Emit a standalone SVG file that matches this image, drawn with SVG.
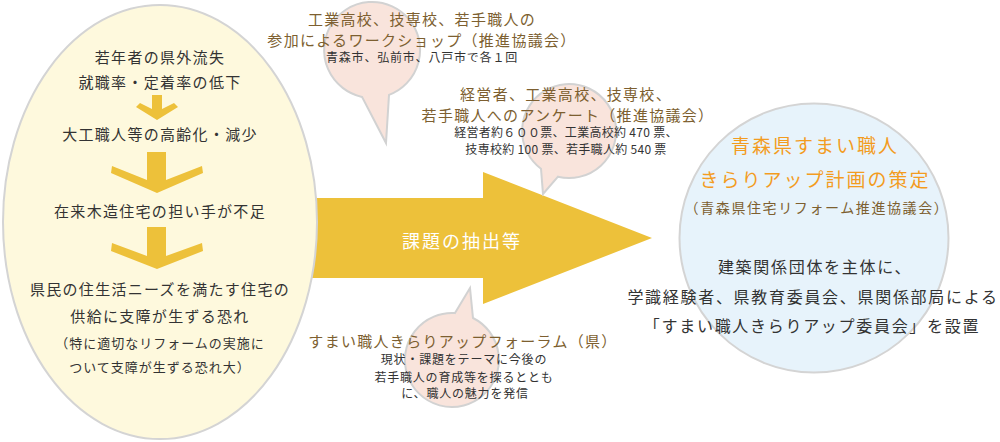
<svg xmlns="http://www.w3.org/2000/svg" width="1000" height="442" viewBox="0 0 1000 442">
<style>
text { font-family: "Noto Sans CJK JP", "Noto Sans", sans-serif; text-anchor: middle; }
.d15 { font-size: 15px; letter-spacing: 1.3px; fill: #333; }
.d13 { font-size: 13px; letter-spacing: 1px; fill: #333; }
.b15 { font-size: 15px; letter-spacing: 1.3px; fill: #7d5f30; }
.s12 { font-size: 12px; letter-spacing: 0.8px; fill: #333; }
.s12n { font-size: 12px; letter-spacing: 0.3px; fill: #333; }
.o19 { font-size: 19px; letter-spacing: 2px; fill: #f39c1f; }
.b14 { font-size: 14px; letter-spacing: 1.6px; fill: #7d5f30; }
.d16 { font-size: 16px; letter-spacing: 1.7px; fill: #333; }
.w18 { font-size: 18px; letter-spacing: 2px; fill: #ffffff; }
.yel { fill: #edc13a; }
.bubble { fill: #f9e4dc; stroke: #d2d2d2; stroke-width: 2; }
</style>

<g id="connectors">
  <polygon class="yel" points="300,198 483,198 483,172 652,238 483,304 483,278 300,278"/>
</g>

<g id="node-left">
  <ellipse cx="160" cy="222" rx="157" ry="217" fill="#fef9dd" stroke="#d4d4d4" stroke-width="2"/>
  <text class="d15" x="160" y="63">若年者の県外流失</text>
  <text class="d15" x="160" y="88">就職率・定着率の低下</text>
  <text class="d15" x="160" y="140">大工職人等の高齢化・減少</text>
  <text class="d15" x="160" y="217">在来木造住宅の担い手が不足</text>
  <text class="d15" x="160" y="295">県民の住生活ニーズを満たす住宅の</text>
  <text class="d15" x="160" y="322">供給に支障が生ずる恐れ</text>
  <text class="d13" x="160" y="348">（特に適切なリフォームの実施に</text>
  <text class="d13" x="160" y="372">ついて支障が生ずる恐れ大）</text>
</g>

<g id="down-arrows">
  <polygon class="yel" points="152,95 162,95 162,109 174,103 178,107 157,120 136,107 140,103 152,109"/>
  <polygon class="yel" points="147,152 166,152 166,180 202,166 203,173 157,193 111,173 112,166 147,180"/>
  <polygon class="yel" points="147,227 166,227 166,256 202,243 203,251 157,269 111,251 112,243 147,256"/>
</g>

<g id="node-workshop">
  <path class="bubble" d="M389,94.9 A48,48 0 1 0 362,96.9 L386,143 Z"/>
  <text class="b15" x="422" y="25">工業高校、技専校、若手職人の</text>
  <text class="b15" x="422" y="46">参加によるワークショップ（推進協議会）</text>
  <text class="s12" x="422" y="62">青森市、弘前市、八戸市で各１回</text>
</g>

<g id="node-survey">
  <path class="bubble" d="M558,176.7 A47,47 0 1 0 541,168.7 L543,194 Z"/>
  <text class="b15" x="566" y="100">経営者、工業高校、技専校、</text>
  <text class="b15" x="568" y="121">若手職人へのアンケート（推進協議会）</text>
  <text class="s12n" x="566" y="137">経営者約６００票、工業高校約 470 票、</text>
  <text class="s12n" x="566" y="154">技専校約 100 票、若手職人約 540 票</text>
</g>

<g id="node-forum">
  <path class="bubble" d="M455,313.1 L470,288 L473,318 A47,47 0 1 1 455,313.1 Z"/>
  <text class="b15" x="463" y="347">すまい職人きらりアップフォーラム（県）</text>
  <text class="s12" x="464" y="364">現状・課題をテーマに今後の</text>
  <text class="s12" x="464" y="382">若手職人の育成等を探るととも</text>
  <text class="s12" x="465" y="398">に、職人の魅力を発信</text>
</g>

<g id="node-plan">
  <circle cx="814" cy="238" r="134.5" fill="#e7f3fb" stroke="#d4d4d4" stroke-width="2"/>
  <text class="o19" x="815" y="153">青森県すまい職人</text>
  <text class="o19" x="815" y="187">きらりアップ計画の策定</text>
  <text class="b14" x="817" y="213">（青森県住宅リフォーム推進協議会）</text>
  <text class="d16" x="815" y="273">建築関係団体を主体に、</text>
  <text class="d16" x="813" y="303">学識経験者、県教育委員会、県関係部局による</text>
  <text class="d16" x="812" y="332">「すまい職人きらりアップ委員会」を設置</text>
</g>

<g id="label-extract">
  <text class="w18" x="462" y="248">課題の抽出等</text>
</g>
</svg>
